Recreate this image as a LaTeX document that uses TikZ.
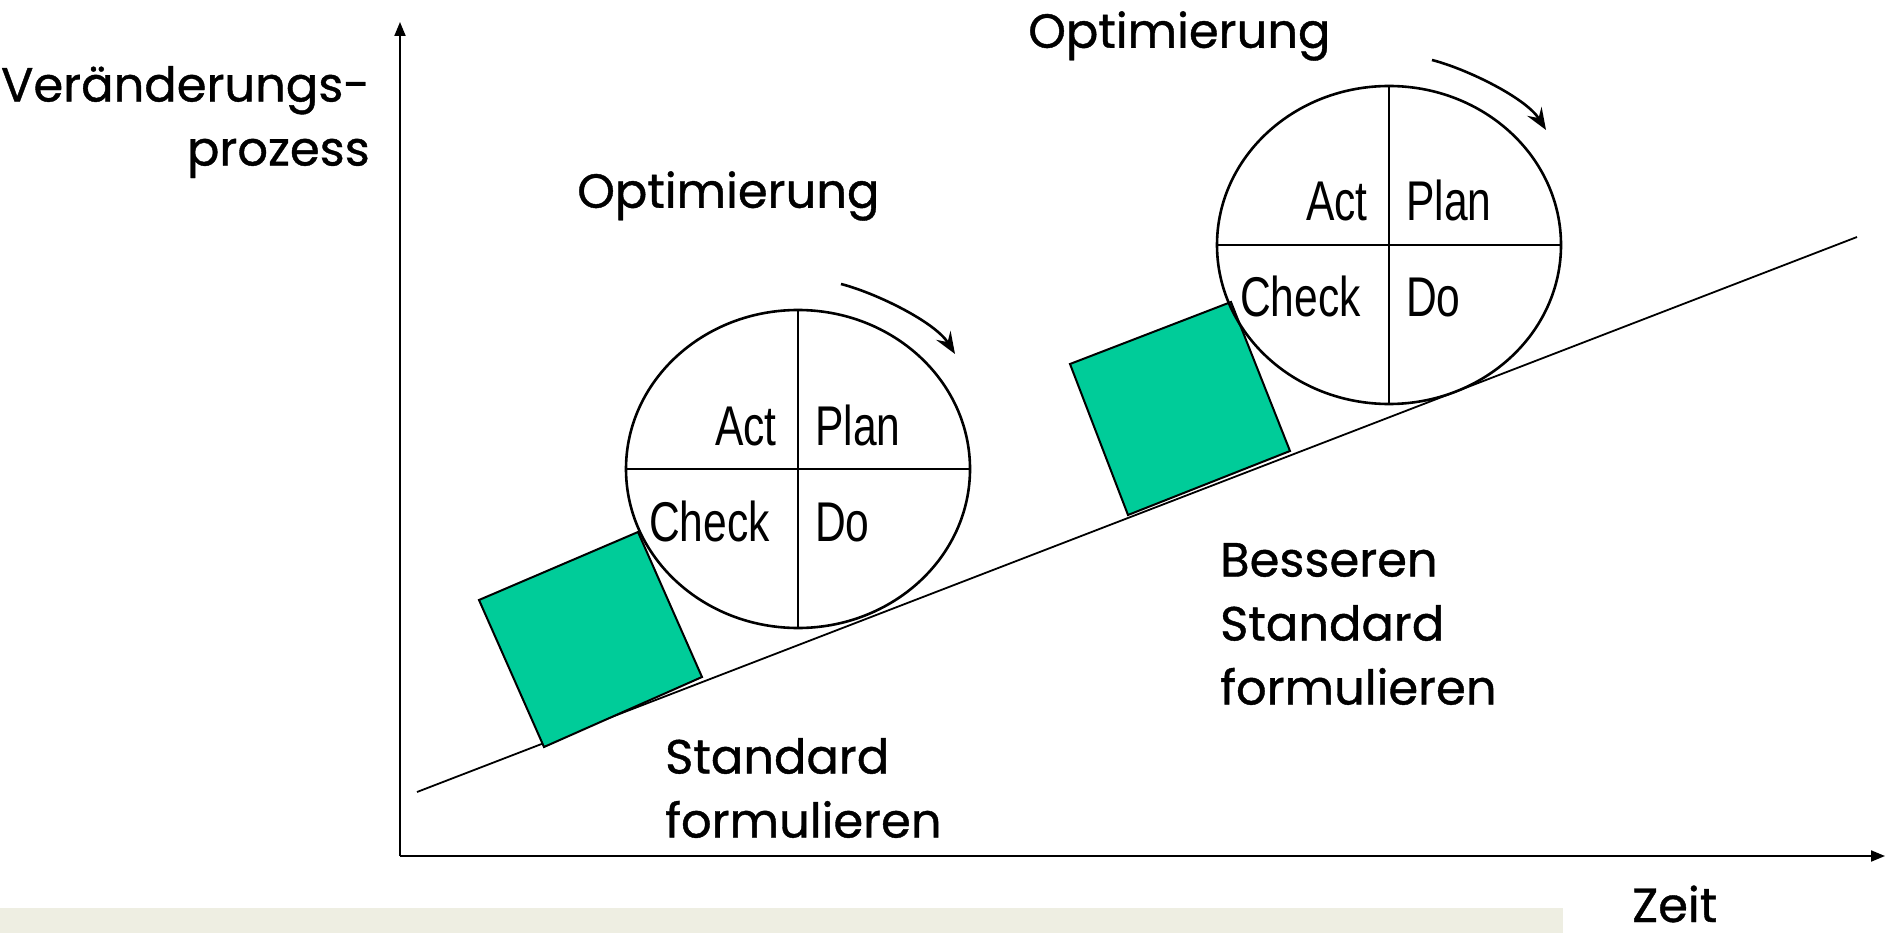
\documentclass[tikz,border=0pt]{standalone}
\usepackage{fontspec}
\setmainfont{Poppins}[FakeBold=0.8]
\newfontfamily\pdcafont[FakeStretch=0.76]{Liberation Sans}
\usetikzlibrary{arrows.meta,shapes.geometric}
\definecolor{boxgreen}{RGB}{0,204,153}
\definecolor{bandbeige}{RGB}{238,238,226}

\tikzset{
  handtext/.style={font=\fontsize{48}{64}\selectfont, inner sep=0pt, align=left},
  pdcalabel/.style={font=\pdcafont\fontsize{56}{60}\selectfont, inner sep=0pt},
  cycle/.style={draw, ellipse, line width=2.6pt, minimum width=344pt,
    minimum height=318pt, inner sep=0pt, outer sep=0pt},
  divider/.style={line width=2.5pt},
  turn/.style={line width=2.6pt, -{Stealth[length=22pt,width=17pt,inset=8pt]}},
  axis/.style={line width=2pt, -{Triangle[length=14pt,width=11pt]}},
  slope/.style={line width=1.8pt},
  block/.style={draw, line width=2pt, fill=boxgreen, line join=miter},
  pdca/.pic={
    \node[cycle] (-c) at (0,0) {};
    \draw[divider] (-c.north) -- (-c.south);
    \draw[divider] (-c.west) -- (-c.east);
    \node[pdcalabel, anchor=base east] (-act) at (-21,-24) {Act};
    \node[pdcalabel, anchor=base west] (-plan) at (17,-24) {Plan};
    \node[pdcalabel, anchor=base west] (-check) at (-149,72) {Check};
    \node[pdcalabel, anchor=base west] (-do) at (17,72) {Do};
    \coordinate (-from) at (43,-185);
    \coordinate (-to) at (157,-115);
    \draw[turn] (-from) .. controls (78,-176) and (137,-147) .. (-to);
  }
}

\begin{document}
\begin{tikzpicture}[x=1pt,y=-1pt]
  \useasboundingbox (0,0) rectangle (1885,933);
  \fill[white] (0,0) rectangle (1885,933);

  % light strip along the lower edge
  \fill[bandbeige] (0,908) rectangle (1563,933);

  % axes
  \coordinate (origin) at (400,856);
  \coordinate (ytip) at (400,22);
  \coordinate (xtip) at (1885,856);
  \draw[axis] (origin) -- (ytip);
  \draw[axis] (origin) -- (xtip);

  % rising standard line
  \coordinate (rampstart) at (417,792);
  \coordinate (rampend) at (1857,237);
  \draw[slope] (rampstart) -- (rampend);

  % wedge blocks holding the cycles on the ramp
  \draw[block] (479,600) -- (638,532) -- (702,677) -- (544,747) -- cycle;
  \draw[block] (1070,364) -- (1231,302) -- (1290,451) -- (1128,515) -- cycle;

  % PDCA cycles
  \pic (low) at (798,469) {pdca};
  \pic (high) at (1389,245) {pdca};

  % labels
  \node[handtext, anchor=east, align=right] (ylabel) at (370,122) {Veränderungs-\\prozess};
  \node[handtext, anchor=west] (opt1) at (577,196) {Optimierung};
  \node[handtext, anchor=west] (opt2) at (1028,36) {Optimierung};
  \node[handtext, anchor=west] (std) at (665,788) {Standard\\formulieren};
  \node[handtext, anchor=west] (better) at (1220,624) {Besseren\\Standard\\formulieren};
  \node[handtext, anchor=base west] (zeit) at (1632,922) {Zeit};
\end{tikzpicture}
\end{document}
